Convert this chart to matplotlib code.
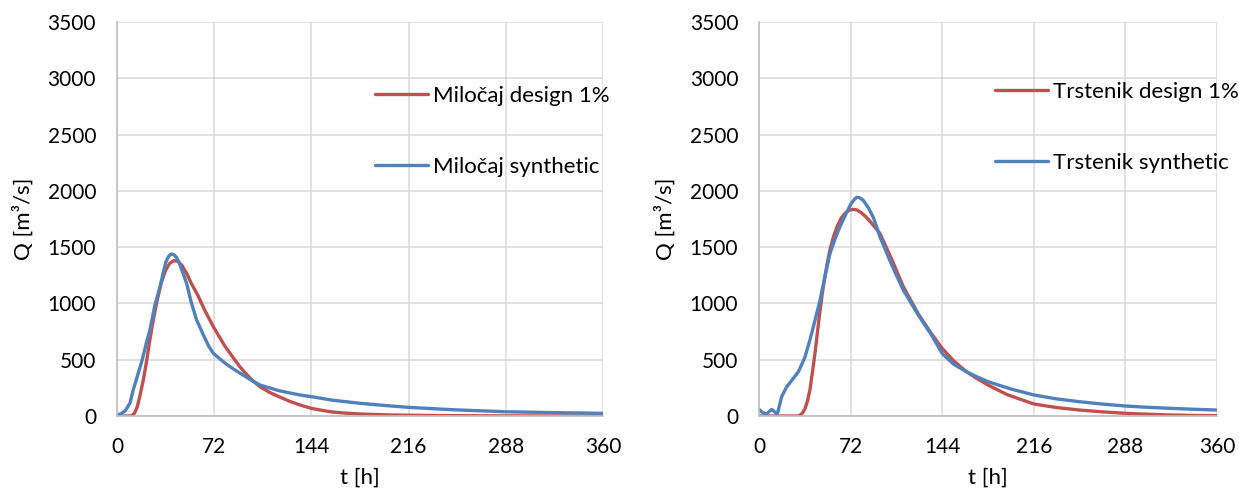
import matplotlib.pyplot as plt
import numpy as np

plt.rcParams['font.family'] = ['Lato', 'DejaVu Sans']

# Miločaj - design 1%
t_mil_design = [0, 8, 11, 13, 15, 17, 19.5, 22, 24, 27, 30, 33, 36, 39, 42, 45, 48,
                51.6, 55, 60, 65, 71.4, 76, 80, 86, 91, 96, 100, 106, 113, 120, 128,
                135.6, 144, 152, 160, 170, 180, 200, 216, 240, 270, 300, 330, 360]
q_mil_design = [0, 0, 2, 25, 80, 180, 320, 490, 650, 860, 1040, 1190, 1295, 1355, 1380,
                1375, 1340, 1267, 1180, 1070, 940, 793, 700, 620, 520, 438, 370, 320,
                260, 210, 172, 130, 98, 68, 50, 35, 25, 18, 10, 7, 4, 2, 1, 0, 0]

# Miločaj - synthetic
t_mil_synth = [0, 3, 6, 9.6, 12, 15, 18, 20, 22, 24.4, 28, 31.9, 34, 36, 38, 40, 42,
               44, 46, 48, 51.6, 55, 59, 64, 68, 71.4, 76, 80, 86, 91, 96, 100, 106,
               113, 120, 128, 135.6, 144, 160, 180, 200, 216, 250, 288, 324, 360]
q_mil_synth = [10, 20, 45, 113, 230, 350, 470, 560, 660, 764, 980, 1149, 1260, 1360,
               1415, 1439, 1435, 1410, 1365, 1300, 1178, 1010, 853, 720, 620, 557,
               510, 470, 420, 382, 345, 315, 275, 250, 225, 205, 187, 172, 140, 113,
               92, 77, 55, 38, 30, 24]

# Trstenik - design 1%
t_trs_design = [0, 20, 30, 32, 34, 36, 38, 40, 42, 44, 46, 48, 50, 52, 54, 56, 59, 62,
                65, 68, 71, 74, 77, 80, 84, 88, 95, 104, 113.4, 125, 135, 144, 153,
                163, 171, 180, 195, 216, 234, 252, 270, 288, 306, 324, 342, 360]
q_trs_design = [0, 0, 0, 5, 25, 60, 130, 231, 390, 560, 750, 942, 1110, 1250, 1380,
                1490, 1610, 1700, 1765, 1805, 1830, 1836, 1830, 1810, 1770, 1720, 1623,
                1400, 1149, 910, 740, 600, 490, 394, 335, 275, 190, 107, 75, 53, 37,
                24, 16, 9, 5, 3]

# Trstenik - synthetic
t_trs_synth = [0, 3, 6, 8, 10, 12, 14.4, 16, 17.8, 21.8, 26, 31, 36, 40, 44, 48, 52,
               55.8, 60, 63, 66, 69, 72, 75, 76.8, 79, 82, 86, 90, 95, 104, 113.4, 125,
               135, 144, 153, 163, 171, 180, 198, 216, 234, 252, 270, 288, 306, 324,
               342, 360]
q_trs_synth = [59, 30, 18, 40, 59, 40, 18, 90, 172, 260, 320, 394, 520, 675, 850, 1030,
               1250, 1445, 1580, 1665, 1741, 1810, 1880, 1925, 1943, 1940, 1915, 1850,
               1760, 1593, 1350, 1119, 900, 730, 555, 460, 394, 350, 305, 240, 187,
               152, 127, 106, 89, 77, 68, 60, 53]

x_ticks = [0, 72, 144, 216, 288, 360]
y_ticks = [0, 500, 1000, 1500, 2000, 2500, 3000, 3500]

red = '#C0504D'
blue = '#4F81BD'

fig = plt.figure(figsize=(12.39, 4.91), dpi=100)
ax1 = fig.add_axes([0.0944, 0.1527, 0.3923, 0.8024])
ax2 = fig.add_axes([0.6126, 0.1527, 0.3697, 0.8024])

panels = [
    (ax1, t_mil_design, q_mil_design, t_mil_synth, q_mil_synth,
     'Miločaj design 1%', 'Miločaj synthetic', (0.531, 0.722)),
    (ax2, t_trs_design, q_trs_design, t_trs_synth, q_trs_synth,
     'Trstenik design 1%', 'Trstenik synthetic', (0.515, 0.732)),
]

for ax, td, qd, ts, qs, lab_d, lab_s, leg_pos in panels:
    ax.plot(td, qd, color=red, lw=2.4, label=lab_d, solid_capstyle='round')
    ax.plot(ts, qs, color=blue, lw=2.4, label=lab_s, solid_capstyle='round')

    ax.set_xlim(0, 360)
    ax.set_ylim(0, 3500)
    ax.set_xticks(x_ticks)
    ax.set_yticks(y_ticks)
    ax.grid(True, color='#D9D9D9', lw=1.1)
    ax.set_axisbelow(True)
    for s in ['top', 'right']:
        ax.spines[s].set_visible(False)
    for s in ['left', 'bottom']:
        ax.spines[s].set_color('#BFBFBF')
        ax.spines[s].set_linewidth(1.2)
    ax.tick_params(length=0, pad=15, labelsize=15, colors='black')
    ax.set_xlabel('t [h]', fontsize=16, labelpad=8)
    ax.set_ylabel('Q [m³/s]', fontsize=16, labelpad=10)

    ax.legend(loc='center left', bbox_to_anchor=leg_pos, frameon=False,
              fontsize=16, labelspacing=2.3, handlelength=2.4,
              handletextpad=0.2, borderpad=0, borderaxespad=0)

fig.savefig('out.png', dpi=100)
